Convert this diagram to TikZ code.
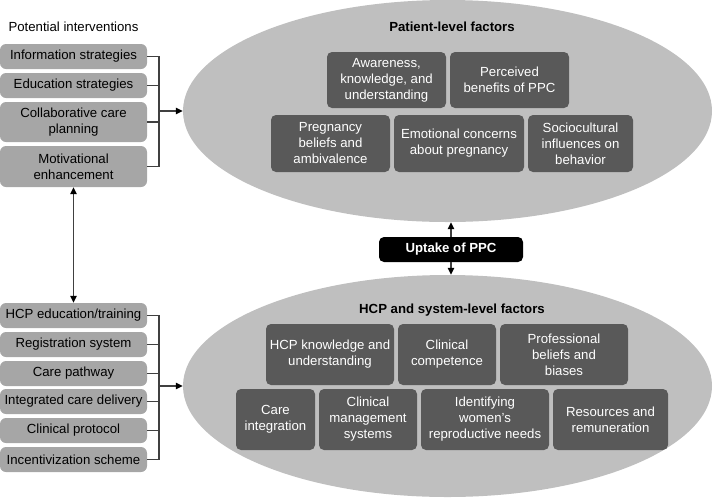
\documentclass[tikz,border=0pt]{standalone}
\usepackage{fontspec}
\setmainfont{Liberation Sans}
\usepackage{tikz}
\usetikzlibrary{arrows.meta,positioning,calc,shapes.geometric}
\definecolor{shell}{HTML}{BFBFBF}
\definecolor{slate}{HTML}{595959}
\definecolor{stone}{HTML}{A6A6A6}
\definecolor{wire}{HTML}{404040}
\newcommand{\fs}{\fontsize{13.2}{16}\selectfont}
\tikzset{cloud/.style={ellipse,fill=shell,inner sep=0pt,minimum width=529pt,minimum height=222pt}, factor/.style={fill=slate,text=white,rounded corners=5pt,align=center,font=\fs,inner sep=2pt}, lever/.style={fill=stone,rounded corners=6pt,align=center,font=\fs,minimum width=147pt,minimum height=25pt,inner sep=1pt}, hub/.style={fill=black,text=white,rounded corners=5pt,font=\fs\bfseries,minimum width=144pt,minimum height=25pt}, heading/.style={font=\fs\bfseries}, link/.style={line width=1.2pt,draw=wire}, flow/.style={-{Triangle[length=7pt,width=6.5pt,black]},line width=1.2pt,draw=wire}, twoway/.style={{Triangle[length=7pt,width=6.5pt,black]}-{Triangle[length=7pt,width=6.5pt,black]},line width=1.2pt,draw=wire}}

\begin{document}
\begin{tikzpicture}[x=1pt,y=-1pt]
\useasboundingbox (0,0) rectangle (720,499);
% the two groups of factors
\node[cloud] (pat) at (447.5,111) {};
\node[cloud] (sys) at (447.5,386) {};
\node[heading] (pattitle) at (452,27) {Patient-level factors};
\node[heading] (systitle) at (452,310) {HCP and system-level factors};
\node[factor,minimum width=119pt,minimum height=56pt] (aware) at (386.5,80) {Awareness,\\knowledge, and\\understanding};
\node[factor,minimum width=119pt,minimum height=56pt] (benefit) at (509.5,80) {Perceived\\benefits of PPC};
\node[factor,minimum width=119pt,minimum height=57pt] (belief) at (330.5,143.5) {Pregnancy\\beliefs and\\ambivalence};
\node[factor,minimum width=130pt,minimum height=57pt] (emotion) at (459,143.5) {Emotional concerns\\about pregnancy};
\node[factor,minimum width=105pt,minimum height=57pt] (culture) at (580.5,143.5) {Sociocultural\\influences on\\behavior};
\node[factor,minimum width=128pt,minimum height=61pt] (hcpknow) at (330,354.5) {HCP knowledge and\\understanding};
\node[factor,minimum width=98pt,minimum height=61pt] (compet) at (447,354.5) {Clinical\\competence};
\node[factor,minimum width=128pt,minimum height=61pt] (profbias) at (564,354.5) {Professional\\beliefs and\\biases};
\node[factor,minimum width=79pt,minimum height=61pt] (careint) at (275.5,419.5) {Care\\integration};
\node[factor,minimum width=98pt,minimum height=61pt] (clinmgmt) at (368,419.5) {Clinical\\management\\systems};
\node[factor,minimum width=128pt,minimum height=61pt] (reprod) at (485,419.5) {Identifying\\women’s\\reproductive needs};
\node[factor,minimum width=115pt,minimum height=61pt] (resource) at (610.5,419.5) {Resources and\\remuneration};
% outcome
\node[hub] (uptake) at (451,249.5) {Uptake of PPC};
\draw[flow] (uptake.north) -- (uptake.north |- pat.south);
\draw[flow] (uptake.south) -- (uptake.south |- sys.north);
% interventions
\node[anchor=west,font=\fs] (potint) at (5,27) {Potential interventions};
\node[lever] (info) at (73.5,56.5) {Information strategies};
\node[lever] (educ) at (73.5,85.5) {Education strategies};
\node[lever,minimum height=40pt] (collab) at (73.5,122) {Collaborative care\\planning};
\node[lever,minimum height=41pt] (motiv) at (73.5,166.5) {Motivational\\enhancement};
\node[lever] (hcped) at (73.5,315.5) {HCP education/training};
\node[lever] (regist) at (73.5,344.5) {Registration system};
\node[lever] (pathway) at (73.5,373.5) {Care pathway};
\node[lever] (integr) at (73.5,401.5) {Integrated care delivery};
\node[lever] (protocol) at (73.5,430.5) {Clinical protocol};
\node[lever] (incent) at (73.5,459.5) {Incentivization scheme};
\coordinate (tbar) at (159,111);
\coordinate (bbar) at (159,386);
\draw[link] (info.east) -| (tbar);
\draw[link] (educ.east) -| (tbar);
\draw[link] (collab.east) -| (tbar);
\draw[link] (motiv.east) -| (tbar);
\draw[flow] (tbar) -- (pat.west);
\draw[link] (hcped.east) -| (bbar);
\draw[link] (regist.east) -| (bbar);
\draw[link] (pathway.east) -| (bbar);
\draw[link] (integr.east) -| (bbar);
\draw[link] (protocol.east) -| (bbar);
\draw[link] (incent.east) -| (bbar);
\draw[flow] (bbar) -- (sys.west);
\draw[twoway] (motiv.south) -- (hcped.north);
\end{tikzpicture}
\end{document}
